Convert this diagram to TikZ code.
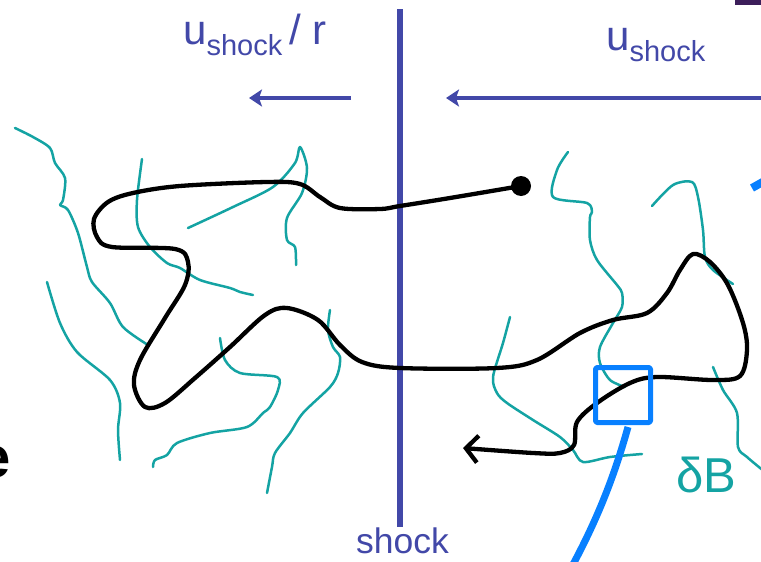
\documentclass[tikz,border=0pt]{standalone}
\usepackage{fontspec}
\setmainfont{Liberation Sans}
\usepackage{tikz}
\usetikzlibrary{arrows.meta, calc}
\definecolor{shockblue}{RGB}{66,72,168}
\definecolor{fieldteal}{RGB}{20,163,163}
\definecolor{boxblue}{RGB}{8,128,255}
\definecolor{barpurple}{RGB}{60,30,90}
\newcommand{\velsub}[1]{\raisebox{-11pt}{\fontsize{29}{30}\selectfont #1}}

\begin{document}
\begin{tikzpicture}[x=1pt, y=-1pt, line join=round, line cap=round,
    field/.style={fieldteal, line width=2.5pt},
    flow/.style={shockblue, line width=4pt, line cap=butt, -{Stealth[length=13pt, width=17pt, inset=3pt]}},
    orbit/.style={black, line width=4.3pt, -{Straight Barb[length=12pt, width=27pt]}},
    vlabel/.style={inner sep=0, anchor=base west, text=shockblue, font=\fontsize{42}{48}\selectfont}]
  \useasboundingbox (0,0) rectangle (761,562);
  \clip (0,0) rectangle (761,562);

  \node (cut) [inner sep=0, anchor=base east, font=\fontsize{58}{60}\selectfont\bfseries] at (11,477) {e};
  \fill[barpurple] (735,0) rectangle (761,5);

  % field lines
  \draw[field] plot[smooth, tension=.5] coordinates {(15,128) (33,137) (50,148) (55,163) (65,178) (63,200) (60,205) (68,210) (78,233) (87,267) (92,282) (110,303) (123,327) (148,345)};
  \draw[field] plot[smooth, tension=.5] coordinates {(47,282) (60,323) (77,352) (110,380) (120,403) (118,430) (120,460)};
  \draw[field] plot[smooth, tension=.5] coordinates {(142,159) (137,200) (138,227) (150,247) (167,263) (180,268) (200,280) (230,288) (240,292) (253,295)};
  \draw[field] plot[smooth, tension=.5] coordinates {(188,228) (233,207) (273,187) (295,163) (300,147) (307,168) (302,193) (287,218) (287,240) (295,247) (296,265)};
  \draw[field] plot[smooth, tension=.5] coordinates {(220,338) (225,360) (240,373) (277,377) (278,390) (270,407) (263,413) (247,427) (210,433) (177,443) (167,455) (155,460) (153,467)};
  \draw[field] plot[smooth, tension=.5] coordinates {(330,310) (328,330) (333,347) (340,357) (338,373) (330,387) (303,413) (290,433) (275,453) (272,467) (267,493)};
  \draw[field] plot[smooth, tension=.5] coordinates {(568,152) (557,170) (553,197) (587,203) (592,212) (590,217) (590,240) (597,260) (617,285) (622,293) (622,307) (613,323) (600,347) (600,363) (610,380) (625,387)};
  \draw[field] plot[smooth, tension=.5] coordinates {(652,206) (673,185) (692,182) (698,197) (703,230) (705,257) (713,270) (733,284)};
  \draw[field] plot[smooth, tension=.5] coordinates {(510,317) (503,343) (493,377) (497,393) (507,403) (533,420) (560,437) (573,450) (583,462) (610,457) (642,454)};
  \draw[field] plot[smooth, tension=.5] coordinates {(713,367) (723,390) (737,413) (738,447) (747,457) (765,472)};

  % shock front
  \coordinate (shocktop) at (400,9);
  \node (shocklbl) [inner sep=0, anchor=base west, text=shockblue, font=\fontsize{35.5}{40}\selectfont] at (356,553) {shock};
  \draw[shockblue, line width=6.5pt, line cap=butt] (shocktop) -- (shocktop |- shocklbl.north);

  \coordinate (slowtail) at (351,98);
  \coordinate (slowtip) at (249,98);
  \coordinate (fasttail) at (765,98);
  \coordinate (fasttip) at (446,98);
  \draw[flow] (slowtail) -- (slowtip);
  \draw[flow] (fasttail) -- (fasttip);
  \node (slowlbl) [vlabel] at (183,44) {u\velsub{shock}\kern7pt/ r};
  \node (fastlbl) [vlabel] at (606,50) {u\velsub{shock}};

  % particle track
  \node (start) [circle, fill=black, inner sep=0, minimum size=20pt] at (521,186) {};
  \coordinate (tip) at (463,448);
  \draw[orbit] plot[smooth, tension=.55] coordinates {(start) (450,198) (400,206) (380,209) (340,208) (320,197) (300,184) (267,182) (180,186) (133,193) (108,202) (94,219) (97,237) (112,247) (175,249) (188,262) (185,285) (165,318) (140,360) (134,385) (145,407) (165,403) (195,378) (230,347) (265,315) (287,308) (318,320) (340,345) (362,362) (400,368) (497,368) (537,360) (580,333) (613,320) (647,313) (667,293) (680,270) (693,254) (710,262) (728,285) (743,323) (747,350) (740,376) (713,380) (657,377) (630,383) (597,403) (577,422) (574,445) (560,453) (533,453) (tip)};

  % field sample
  \node (dbox) [draw=boxblue, line width=5pt, minimum size=55pt, inner sep=0, rounded corners=1.5pt] at (623,395) {};
  \draw[boxblue, line width=7pt, line cap=butt] ($(dbox.south)+(5,2)$) .. controls (616,470) and (600,515) .. (570,570);
  \draw[boxblue, line width=8pt, line cap=butt] (752,188) -- (768,179);
  \node (dblbl) [inner sep=0, anchor=base west, text=fieldteal, font=\fontsize{49}{54}\selectfont] at (676,492) {δB};
\end{tikzpicture}
\end{document}
